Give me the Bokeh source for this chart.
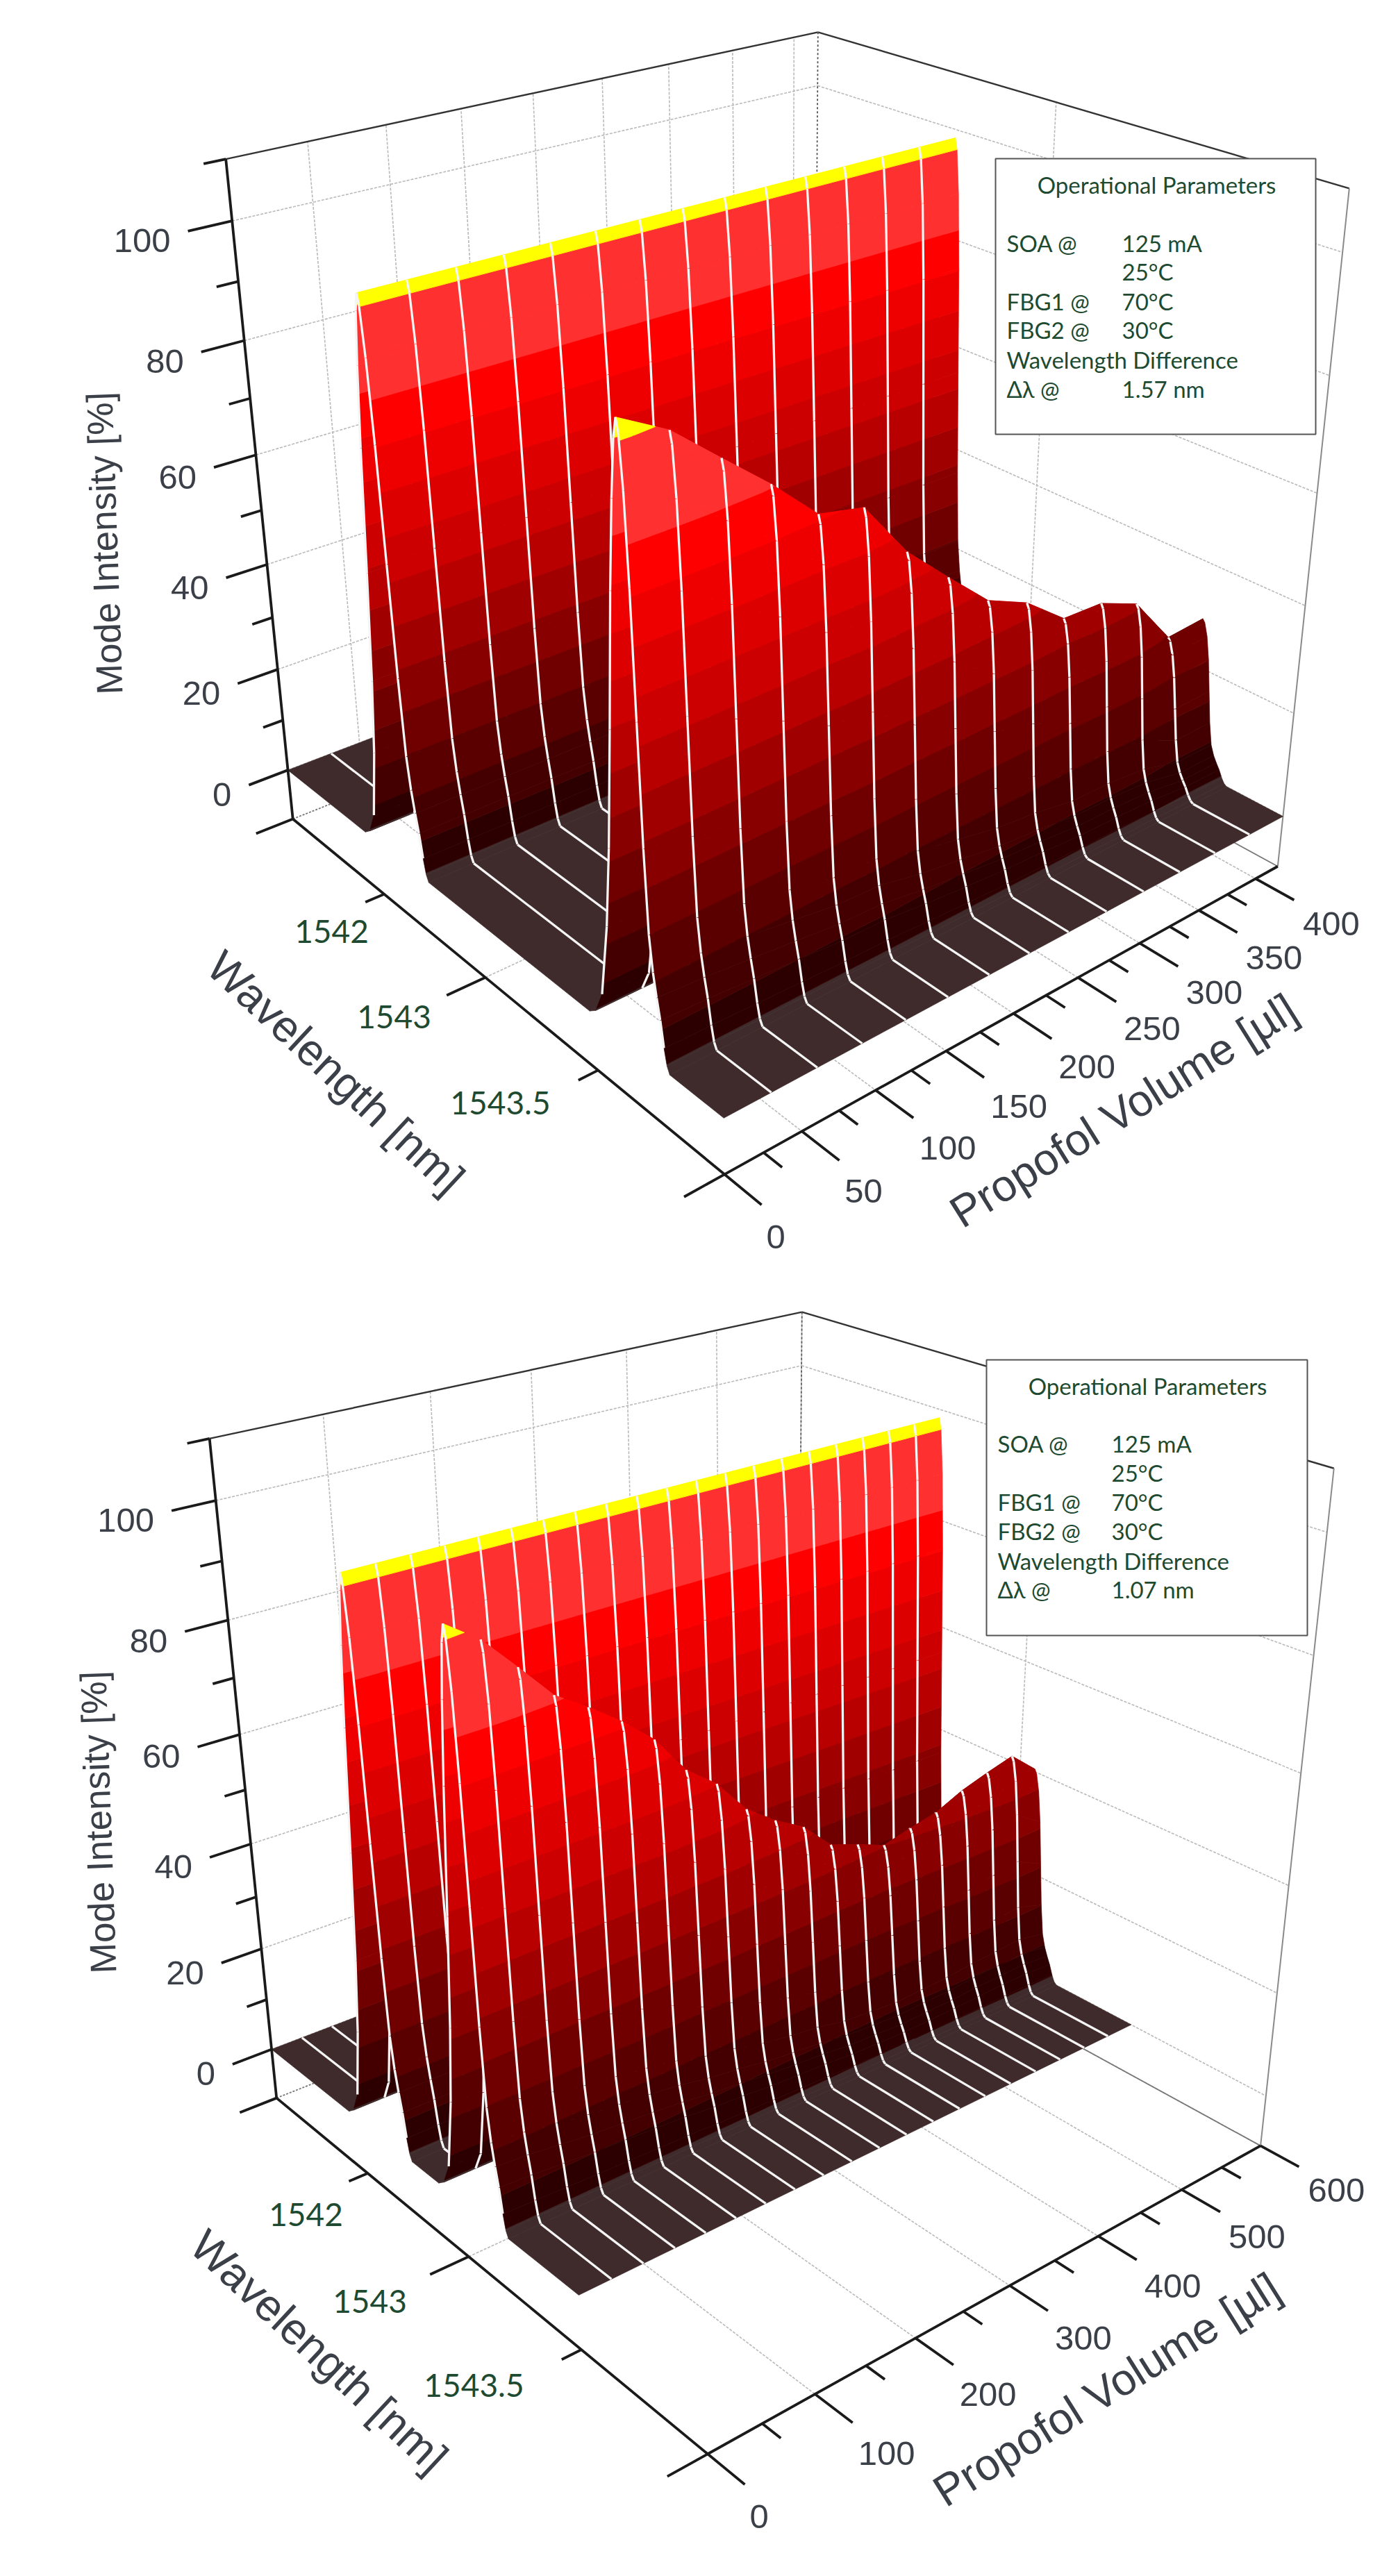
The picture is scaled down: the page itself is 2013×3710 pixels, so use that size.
import numpy as np
from bokeh.plotting import figure
from bokeh.embed import file_html
from bokeh.resources import INLINE
from bokeh.core.properties import value
from bokeh.models import Range1d, ColumnDataSource

# ---------- data ----------
Z_MAJOR = [0, 20, 40, 60, 80, 100]
Z_MINOR = [10, 30, 50, 70, 90, 110]
WL_MAJOR = [0.0, 0.5, 1.0]          # axis positions, as a share of the wavelength axis
WL_MINOR = [0.25, 0.75]
WL_LABELS = ["1542", "1543", "1543.5"]

# cross-section of a mode: distance from the mode centre (share of the axis) and share of its height
MODE_OFFSET = [-.093,-.08,-.065,-.05,-.04,-.03,-.02,-.012,-.005,0,.004,.01,.016,.022,.028,.034,.04,.046,.052,.058,.063,.068]
MODE_SHAPE  = [0,.01,.05,.18,.32,.52,.74,.88,.97,1,.98,.9,.76,.56,.36,.22,.16,.12,.085,.04,.012,0]

VOL_A = [0,30,60,90,120,150,180,210,240,270,300,330,360,390,420]
WALL1_A = [98.5]*15
WALL2_A = [99.6,95.4,88.9,82.5,75.3,73.7,63.9,56.9,50.1,46.8,41.1,40.9,37.9,28.7,29.3]
VOL_MAJOR_A = [0,50,100,150,200,250,300,350,400]
VOL_MINOR_A = [25,75,125,175,225,275,325,375]

VOL_B = [0,30,60,90,120,150,180,210,240,270,300,330,360,390,420,450,480,510,540,570,600]
WALL1_B = [98.5]*21
WALL2_B = [98.7,94.8,89,83,79.4,75.4,70.7,63.8,59.6,53.3,49.4,46.3,41.1,39.2,37.1,38.4,39.5,41.8,43.4,44.8,40.5]
VOL_MAJOR_B = [0,100,200,300,400,500,600]
VOL_MINOR_B = [50,150,250,350,450,550]

BOX_TITLE = "Operational Parameters"
BOX_ROWS_A = [("SOA @","125 mA"),("","25°C"),("FBG1 @","70°C"),("FBG2 @","30°C"),("Wavelength Difference",""),("Δλ @","1.57 nm")]
BOX_ROWS_B = [("SOA @","125 mA"),("","25°C"),("FBG1 @","70°C"),("FBG2 @","30°C"),("Wavelength Difference",""),("Δλ @","1.07 nm")]

# colour bands of the surface
LEVELS = [-1,1.5,7,14.5,22,29.5,37,44.5,52,59.5,67,74.5,82,96.5,200]
COLORS = ["#3f2b2b","#2c0000","#440000","#5a0000","#700000","#880000","#a00000","#b80000","#cc0000","#dd0000","#ee0000","#ff0000","#ff3030","#ffff00"]

# ---------- camera: fitted to the corners and ticks of each box ----------
def z3(x, y, oy): return (100 + x/1.568, oy + y/1.742)
def z4(x, y, oy): return (1000 + x/1.548, oy + y/1.742)

def fit(obs):
    A, b = [], []
    for v, w, z, x, y in obs:
        z = z/100
        A.append([v,w,z,1,0,0,0,0,-x*v,-x*w,-x*z]); b.append(x)
        A.append([0,0,0,0,v,w,z,1,-y*v,-y*w,-y*z]); b.append(y)
    s = np.linalg.lstsq(np.array(A), np.array(b), rcond=None)[0]
    return np.append(s, 1).reshape(3, 4)

obsA = [(0,0,110,333,236.5),(0,0,100,341,325.5),(0,0,80,360,498),(0,0,60,375.5,663),(0,0,40,393,822),(0,0,20,409,970),(0,0,0,422,1115),(0,0,-10,430,1187),
        (0,1,-10,1050,1698),(1,1,-10,1846,1255),(1,1,110,1951,280),(1,0,110,1184,53)]
for f, p in zip([.25,.5,.75], [(720,690),(950,903),(1200,1135)]):
    obsA.append((0,f,-10)+z3(*p,900))
for vol, p in zip([50,100,150,200,250,300,350,400], [(250,1280),(415,1178),(575,1080),(725,985),(870,897),(1005,812),(1135,733),(1262,650)]):
    obsA.append((vol/420,1,-10)+z4(*p,900))
obsB = [(0,0,110,308.5,2081),(0,0,100,317,2168),(0,0,80,337,2339),(0,0,60,354,2505.6),(0,0,40,369,2663.5),(0,0,20,384,2814),(0,0,0,398,2958),(0,0,-10,407,3029.6),
        (0,1,-10,1026.5,3542.5),(1,1,-10,1822,3097),(1,1,110,1929,2123),(1,0,110,1161.5,1897)]
for f, p in zip([.25,.5,.75], [(682,590),(915,800),(1165,1030)]):
    obsB.append((0,f,-10)+z3(*p,2800))
for vol, p in zip([100,200,300,400,500], [(280,1140),(505,998),(715,870),(910,745),(1100,632)]):
    obsB.append((vol/600,1,-10)+z4(*p,2800))

W, H = 1997, 3694
p = figure(width=W, height=H, x_range=Range1d(8, 8+W), y_range=Range1d(8+H, 8),
           output_backend="svg", toolbar_location=None, min_border=0)
p.axis.visible = False
p.grid.visible = False
p.outline_line_color = None
p.background_fill_color = "white"
p.border_fill_color = "white"

AXIS_FONT = "Liberation Sans"
GREEN_FONT = "Lato"
GREY = "#3a3f48"
GREEN = "#1d4a30"

def clip(poly, lo, hi):
    def cut(pts, lim, keep_above):
        out = []
        n = len(pts)
        for i in range(n):
            a, b = pts[i], pts[(i+1) % n]
            ina = a[2] >= lim if keep_above else a[2] <= lim
            inb = b[2] >= lim if keep_above else b[2] <= lim
            if ina: out.append(a)
            if ina != inb:
                t = (lim-a[2])/(b[2]-a[2])
                out.append((a[0]+t*(b[0]-a[0]), a[1]+t*(b[1]-a[1]), lim))
        return out
    r = cut(poly, lo, True)
    if len(r) >= 3: r = cut(r, hi, False)
    return r

def panel(obs, vols, wall1, wall2, c1, c2, wend, vmaj, vmin, L):
    M = fit(obs)
    vmax = L["vmax"]
    def pr(v, w, z):
        X = M @ np.array([v, w, z/100, 1.0])
        return X[0]/X[2], X[1]/X[2]

    def seg(p0, p1, n=1):
        a = [p0[i] + (p1[i]-p0[i])*np.linspace(0, 1, n+1) for i in range(3)]
        pts = [pr(a[0][k], a[1][k], a[2][k]) for k in range(n+1)]
        return [q[0] for q in pts], [q[1] for q in pts]

    # grid on the walls and floor
    gx, gy = [], []
    def g(a, b):
        x, y = seg(a, b); gx.append(x); gy.append(y)
    for z in Z_MAJOR:
        g((0,0,z),(1,0,z)); g((1,0,z),(1,1,z))
    for vol in vmaj[1:]:
        v = vol/vmax
        g((v,0,-10),(v,0,110)); g((v,0,-10),(v,1,-10))
    g((0,.5,-10),(1,.5,-10)); g((1,.5,-10),(1,.5,110))
    p.multi_line(gx, gy, line_color="#b9b9b9", line_width=1.6, line_dash="4 2")

    # frame
    fx, fy = [], []
    for a, b in [((0,0,110),(1,0,110)),((1,0,110),(1,1,110))]:
        x, y = seg(a, b); fx.append(x); fy.append(y)
    p.multi_line(fx, fy, line_color="#333333", line_width=2.4)
    x, y = seg((1,1,110),(1,1,-10))
    p.line(x, y, line_color="#8a8a8a", line_width=2)
    x, y = seg((1,0,110),(1,0,-10))
    p.line(x, y, line_color="#555555", line_width=1.8, line_dash="3 3")
    x, y = seg((0,0,-10),(1,0,-10))
    p.line(x, y, line_color="#777777", line_width=1.8, line_dash="3 2")
    x, y = seg((1,0,-10),(1,1,-10))
    p.line(x, y, line_color="#777777", line_width=1.8)

    # surface: far strips first
    nodes = [0.0] + [c1+o for o in MODE_OFFSET] + [c2+o for o in MODE_OFFSET] + [wend]
    heights = []
    for k in range(len(vols)):
        heights.append([0.0] + [wall1[k]*s for s in MODE_SHAPE] + [wall2[k]*s for s in MODE_SHAPE] + [0.0])
    xs, ys, fc, lc, lw = [], [], [], [], []
    def quad(j, i):
        v0, v1 = vols[j]/vmax, vols[j+1]/vmax
        w0, w1 = nodes[i], nodes[i+1]
        h = heights
        poly = [(v0,w0,h[j][i]),(v1,w0,h[j+1][i]),(v1,w1,h[j+1][i+1]),(v0,w1,h[j][i+1])]
        zs = [q[2] for q in poly]
        for b, col in enumerate(COLORS):
            lo, hi = LEVELS[b], LEVELS[b+1]
            if max(zs) < lo or min(zs) > hi: continue
            r = clip(poly, lo, hi)
            if len(r) < 3: continue
            pts = [pr(*q) for q in r]
            xs.append([q[0] for q in pts]); ys.append([q[1] for q in pts])
            fc.append(col); lc.append(col); lw.append(0.7)
    def white(j, i):
        a, b = heights[j][i], heights[j][i+1]
        if j == 0 and max(a, b) < 6: return
        v = vols[j]/vmax
        pa, pb = pr(v, nodes[i], a), pr(v, nodes[i+1], b)
        xs.append([pa[0], pb[0]]); ys.append([pa[1], pb[1]])
        fc.append("#f4f4f4"); lc.append("#f4f4f4"); lw.append(3.3)
    last = len(vols)-1
    for i in range(len(nodes)-1):
        for j in range(last-1, -1, -1):
            quad(j, i)
            if j+1 != last:
                white(j+1, i)
        white(0, i)
    src = ColumnDataSource(dict(xs=xs, ys=ys, fc=fc, lc=lc, lw=lw))
    p.patches("xs", "ys", source=src, fill_color="fc", line_color="lc", line_width="lw")

    # axes
    ax, ay = [], []
    for a, b in [((0,0,110),(0,0,-10)),((0,0,-10),(0,1,-10)),((0,1,-10),(1,1,-10))]:
        x, y = seg(a, b); ax.append(x); ay.append(y)
    tx, ty = [], []
    def tick(a, b):
        x, y = seg(a, b); tx.append(x); ty.append(y); return x[1], y[1]
    TK_Z, TK_WL, TK_V = 0.063, 0.06, 0.068
    lblx, lbly, lbl = [], [], []
    for z in Z_MAJOR:
        e = tick((0,0,z),(-TK_Z,0,z))
        lblx.append(e[0]-25); lbly.append(e[1]+14); lbl.append(str(z))
    for z in Z_MINOR:
        tick((0,0,z),(-TK_Z*.5,0,z))
    p.text(lblx, lbly, text=lbl, text_font=value(AXIS_FONT), text_font_size="49px", text_color=GREY,
           text_align="right", text_baseline="middle")
    for w in WL_MAJOR: tick((0,w,-10),(-TK_WL,w,-10))
    for w in WL_MINOR: tick((0,w,-10),(-TK_WL*.5,w,-10))
    lblx, lbly, lbl = [], [], []
    for vol in vmaj:
        v = vol/vmax
        e = tick((v,1,-10),(v,1+TK_V,-10))
        lblx.append(e[0]+7+6*v); lbly.append(e[1]+46-12*v); lbl.append(str(vol))
    for vol in vmin:
        tick((vol/vmax,1,-10),(vol/vmax,1+TK_V*.5,-10))
    p.multi_line(tx, ty, line_color="#1a1a1a", line_width=3.8)
    p.multi_line(ax, ay, line_color="#1a1a1a", line_width=3.8)
    p.text(lblx, lbly, text=lbl, text_font=value(AXIS_FONT), text_font_size="49px", text_color=GREY,
           text_align="left", text_baseline="middle")

    # wavelength labels
    p.text([q[0] for q in L["wl"]], [q[1] for q in L["wl"]], text=WL_LABELS, text_font=value(GREEN_FONT),
           text_font_size="46px", text_color=GREEN, text_align="center", text_baseline="middle")

    # axis titles
    for txt, (cx, cy), ang, size in [("Mode Intensity [%]", L["t_z"], 92, 53),
                                     ("Wavelength [nm]", L["t_w"], -43, 64),
                                     ("Propofol Volume [µl]", L["t_v"], 32, 64)]:
        p.text([cx], [cy], text=[txt], angle=[ang], angle_units="deg", text_font=value(AXIS_FONT),
               text_font_size=f"{size}px", text_color=GREY, text_align="center", text_baseline="middle")

    # parameter box
    x0, x1, y0, y1 = L["box"]
    p.quad(left=[x0], right=[x1], top=[y0], bottom=[y1], fill_color="white", line_color="#555555", line_width=2)
    p.text([L["title"][0]], [L["title"][1]], text=[BOX_TITLE], text_font=value(GREEN_FONT), text_font_size="33px",
           text_color=GREEN, text_align="center", text_baseline="middle")
    for (a, b), yy in zip(L["rows"], L["row_y"]):
        if a:
            p.text([L["col"][0]], [yy], text=[a], text_font=value(GREEN_FONT), text_font_size="33px",
                   text_color=GREEN, text_align="left", text_baseline="middle")
        if b:
            p.text([L["col"][1]], [yy], text=[b], text_font=value(GREEN_FONT), text_font_size="33px",
                   text_color=GREEN, text_align="left", text_baseline="middle")

panel(obsA, VOL_A, WALL1_A, WALL2_A, .305, .83, 1.0, VOL_MAJOR_A, VOL_MINOR_A, dict(
    vmax=420, wl=[(485,1349),(575,1472),(728,1596)], t_z=(158,790), t_w=(491,1552), t_v=(1625,1607),
    box=(1441,1902,236,633), title=(1673,273), rows=BOX_ROWS_A, col=(1457,1623), row_y=[357,398,441,482,525,567]))
panel(obsB, VOL_B, WALL1_B, WALL2_B, .305, .53, .749, VOL_MAJOR_B, VOL_MINOR_B, dict(
    vmax=600, wl=[(448,3197),(540,3322),(690,3443)], t_z=(149,2632), t_w=(467,3394), t_v=(1601,3449),
    box=(1428,1890,1966,2363), title=(1660,2003), rows=BOX_ROWS_B, col=(1444,1608), row_y=[2086,2128,2170,2212,2255,2296]))

open("out.html", "w").write(file_html(p, INLINE))
